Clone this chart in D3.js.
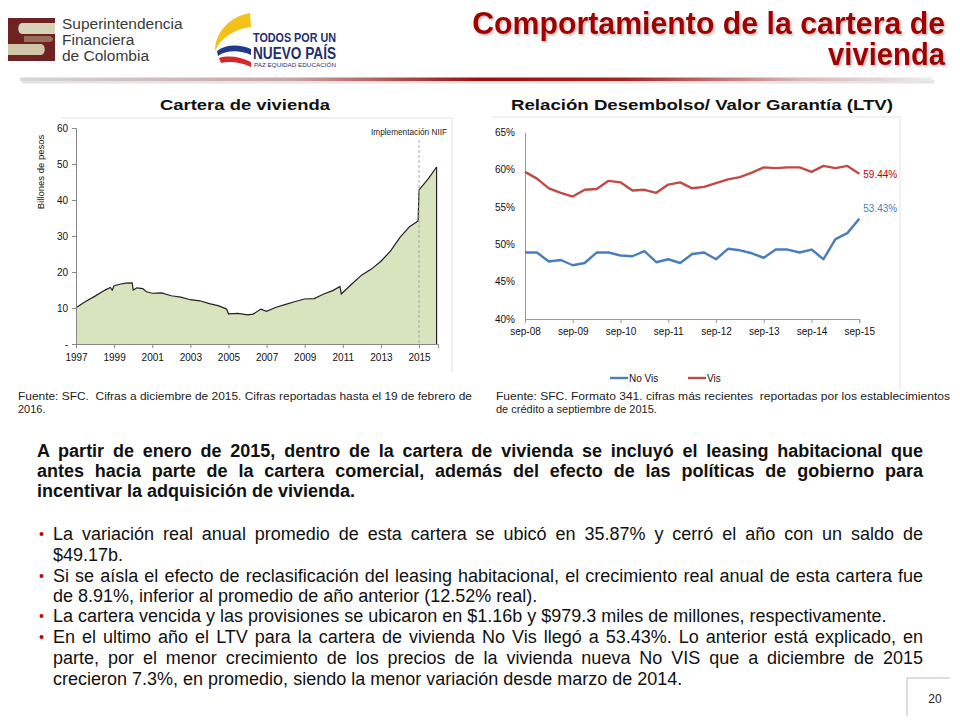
<!DOCTYPE html>
<html><head><meta charset="utf-8">
<script src="https://cdn.jsdelivr.net/npm/d3@7"></script>
<style>
body{margin:0;background:#fff;}
svg{display:block;font-family:'Liberation Sans',Arial,sans-serif;}
</style></head>
<body>
<svg id="c" width="960" height="720"></svg>
<script>
// ---------- DATA ----------
const carteraYears  = [1997.0,1997.5,1998.0,1998.5,1998.8,1998.9,1999.0,1999.3,1999.6,1999.95,2000.0,2000.2,2000.5,2000.7,2001.0,2001.5,2002.0,2002.5,2003.0,2003.5,2004.0,2004.5,2004.9,2005.0,2005.5,2006.0,2006.3,2006.7,2007.0,2007.5,2008.0,2008.5,2009.0,2009.5,2010.0,2010.5,2010.85,2010.92,2011.5,2012.0,2012.5,2013.0,2013.5,2014.0,2014.5,2014.95,2015.0,2015.5,2015.92];
const carteraValues = [10.1,11.8,13.3,14.9,15.7,15.0,16.2,16.6,16.9,17.0,15.0,15.6,15.4,14.5,14.1,14.2,13.4,13.0,12.3,12.0,11.2,10.6,9.7,8.4,8.5,8.1,8.3,9.7,9.1,10.2,11.0,11.8,12.5,12.6,13.9,14.9,16.0,13.9,16.8,19.2,20.8,23.0,25.8,29.6,32.6,34.2,42.8,46.0,49.17];
const carteraYTicks = [0,10,20,30,40,50,60];
const carteraYLabels = ["-","10","20","30","40","50","60"];
const carteraXTicks = [1997,1999,2001,2003,2005,2007,2009,2011,2013,2015];

const ltvQuarters = ["sep-08","dic-08","mar-09","jun-09","sep-09","dic-09","mar-10","jun-10","sep-10","dic-10","mar-11","jun-11","sep-11","dic-11","mar-12","jun-12","sep-12","dic-12","mar-13","jun-13","sep-13","dic-13","mar-14","jun-14","sep-14","dic-14","mar-15","jun-15","sep-15"];
const noVis = [48.9,48.9,47.7,47.9,47.2,47.5,48.9,48.9,48.5,48.4,49.1,47.6,48.0,47.5,48.7,48.9,48.0,49.4,49.2,48.8,48.2,49.3,49.3,48.9,49.3,48.0,50.7,51.5,53.43];
const vis   = [59.7,58.8,57.5,56.9,56.4,57.3,57.4,58.5,58.3,57.2,57.3,56.9,58.0,58.3,57.5,57.7,58.2,58.7,59.0,59.6,60.3,60.2,60.3,60.3,59.7,60.5,60.2,60.5,59.44];
const ltvYTicks = [40,45,50,55,60,65];
const ltvXTickLabels = ["sep-08","sep-09","sep-10","sep-11","sep-12","sep-13","sep-14","sep-15"];
const seriesNames = ["No Vis","Vis"];

// ---------- SETUP ----------
const svg = d3.select("#c");
const NARROW = "'Liberation Sans Narrow','Arial Narrow','Liberation Sans',sans-serif";
const defs = svg.append("defs");
const sh = defs.append("filter").attr("id","shadow").attr("x","-5%").attr("y","-20%").attr("width","110%").attr("height","160%");
sh.append("feDropShadow").attr("dx",1.5).attr("dy",1.5).attr("stdDeviation",1).attr("flood-color","#777").attr("flood-opacity",0.55);
const grad = defs.append("linearGradient").attr("id","rule").attr("gradientUnits","userSpaceOnUse")
  .attr("x1",20).attr("x2",935).attr("y1",0).attr("y2",0);
[[0,"#d6d6d6"],[0.3,"#c9a3a3"],[0.5,"#9b1010"],[0.66,"#a52222"],[0.85,"#d9b5b5"],[1,"#ececec"]]
  .forEach(s=>grad.append("stop").attr("offset",s[0]).attr("stop-color",s[1]));

// ---------- HEADER ----------
const hdr = svg.append("g");
hdr.append("rect").attr("x",8).attr("y",18).attr("width",47).attr("height",43).attr("fill","#6f2222");
hdr.append("path").attr("d","M22,23 L55,23 L55,34 L22,34 C17,34 17,23 22,23 Z").attr("fill","#d8d2b8");
hdr.append("path").attr("d","M8,44 L41,44 C46,44 46,55 41,55 L8,55 Z").attr("fill","#cfc8a8");
hdr.append("path").attr("d","M24,36 L50,36 C54,38 54,41 50,42 L24,42 Z").attr("fill","#b9ae8c").attr("opacity",0.55);
["Superintendencia","Financiera","de Colombia"].forEach((t,i)=>{
  hdr.append("text").attr("x",62).attr("y",29+i*16).attr("font-size",15.5).attr("fill","#3a3a3a").text(t);
});
hdr.append("path").attr("d","M250,13 C231,16 215,31 215,51 C221,38 234,29 251,27 Z").attr("fill","#f2c21b");
hdr.append("path").attr("d","M217,51 C226,44 240,44 251,49 L251,55 C240,50 226,50 218,56 Z").attr("fill","#1e3a8a");
hdr.append("path").attr("d","M219,58 C229,55 241,57 251,62 L251,67 C241,62 229,61 221,63 Z").attr("fill","#d62828");
hdr.append("text").attr("x",253).attr("y",42).attr("font-size",13).attr("font-weight","bold").attr("fill","#1f2f6e")
  .attr("textLength",83).attr("lengthAdjust","spacingAndGlyphs").text("TODOS POR UN");
hdr.append("text").attr("x",253).attr("y",59).attr("font-size",17).attr("font-weight","bold").attr("fill","#1f2f6e")
  .attr("textLength",83).attr("lengthAdjust","spacingAndGlyphs").text("NUEVO PAÍS");
hdr.append("text").attr("x",254).attr("y",67).attr("font-size",4.5).attr("fill","#1f2f6e")
  .attr("textLength",82).attr("lengthAdjust","spacingAndGlyphs").text("PAZ   EQUIDAD   EDUCACIÓN");

// title: horizontally scaled bold text (condensed look)
const title = svg.append("g").attr("filter","url(#shadow)");
function condensed(g,text,xRight,y,size,width,color){
  const t = g.append("text").attr("text-anchor","end").attr("font-size",size).attr("font-weight","bold")
    .attr("fill",color).text(text);
  const w = t.node().getComputedTextLength();
  t.attr("transform",`translate(${xRight},${y}) scale(${width/w},1)`);
  return t;
}
condensed(title,"Comportamiento de la cartera de",945,34,32,473,"#a00000");
condensed(title,"vivienda",945,65,32,117,"#a00000");
svg.append("rect").attr("x",22).attr("y",80).attr("width",912).attr("height",3.5).attr("fill","#e4e4e4");
svg.append("rect").attr("x",20).attr("y",77.5).attr("width",912).attr("height",3.5).attr("fill","url(#rule)");

// ---------- LEFT CHART ----------
svg.append("text").attr("x",245).attr("y",110).attr("text-anchor","middle").attr("font-size",15).attr("font-weight","bold")
  .attr("fill","#111").attr("textLength",170).attr("lengthAdjust","spacingAndGlyphs").text("Cartera de vivienda");
svg.append("path").attr("d","M62,118 H452 V372").attr("fill","none").attr("stroke","#e3e3e3");

const xL = d3.scaleLinear().domain([1997,2016]).range([76,438.1]);
const yL = d3.scaleLinear().domain([0,60]).range([344,128]);
const gL = svg.append("g");
const pts = carteraYears.map((y,i)=>[y,carteraValues[i]]);
gL.append("path").datum(pts)
  .attr("d",d3.area().x(d=>xL(d[0])).y0(yL(0)).y1(d=>yL(d[1])))
  .attr("fill","#d7e4bd");
gL.append("path").datum(pts)
  .attr("d",d3.line().x(d=>xL(d[0])).y(d=>yL(d[1])))
  .attr("fill","none").attr("stroke","#222").attr("stroke-width",1.2);
gL.append("line").attr("x1",xL(carteraYears[carteraYears.length-1])).attr("x2",xL(carteraYears[carteraYears.length-1]))
  .attr("y1",yL(carteraValues[carteraValues.length-1])).attr("y2",yL(0)).attr("stroke","#222").attr("stroke-width",1.2);
gL.append("line").attr("x1",xL(2015)).attr("x2",xL(2015)).attr("y1",140).attr("y2",yL(0))
  .attr("stroke","#aaa").attr("stroke-dasharray","3,2");
gL.append("text").attr("x",447).attr("y",135).attr("text-anchor","end").attr("font-size",9.5).attr("font-family",NARROW)
  .attr("fill","#222").attr("textLength",76).attr("lengthAdjust","spacingAndGlyphs").text("Implementación NIIF");

const axYL = gL.append("g").attr("transform","translate(76,0)")
  .call(d3.axisLeft(yL).tickValues(carteraYTicks).tickSize(4).tickFormat((d,i)=>carteraYLabels[i]));
const axXL = gL.append("g").attr("transform",`translate(0,${yL(0)})`)
  .call(d3.axisBottom(xL).tickValues(carteraXTicks).tickSize(4).tickFormat(d3.format("d")));
[axYL,axXL].forEach(a=>{
  a.select(".domain").attr("stroke","#888");
  a.selectAll(".tick line").attr("stroke","#888");
  a.selectAll("text").attr("font-family",NARROW).attr("font-size",10).attr("fill","#111");
});
axYL.selectAll("text").attr("dx",-1);
axXL.selectAll("text").attr("dy","0.95em");
gL.append("text").attr("transform","translate(44,172) rotate(-90)").attr("text-anchor","middle")
  .attr("font-size",9.5).attr("fill","#111").text("Billones de pesos");

// ---------- RIGHT CHART ----------
svg.append("text").attr("x",702).attr("y",110).attr("text-anchor","middle").attr("font-size",15).attr("font-weight","bold")
  .attr("fill","#111").attr("textLength",382).attr("lengthAdjust","spacingAndGlyphs").text("Relación Desembolso/ Valor Garantía (LTV)");
svg.append("path").attr("d","M492,117 H900 V390").attr("fill","none").attr("stroke","#e3e3e3");

const xR = d3.scaleLinear().domain([0,ltvQuarters.length-1]).range([525,859.3]);
const yR = d3.scaleLinear().domain([40,65]).range([319,132.3]);
const gR = svg.append("g");
const axYR = gR.append("g").attr("transform","translate(525,0)")
  .call(d3.axisLeft(yR).tickValues(ltvYTicks).tickSize(0).tickFormat(d=>d+"%"));
const axXR = gR.append("g").attr("transform",`translate(0,${yR(40)})`)
  .call(d3.axisBottom(xR).tickValues(d3.range(0,ltvQuarters.length,4)).tickSize(4)
    .tickFormat(d=>ltvXTickLabels[d/4]));
[axYR,axXR].forEach(a=>{
  a.select(".domain").attr("stroke","#999");
  a.selectAll(".tick line").attr("stroke","#999");
  a.selectAll("text").attr("font-family",NARROW).attr("font-size",10).attr("fill","#111");
});
axYR.selectAll("text").attr("dx",-7);
axXR.selectAll("text").attr("dy","0.9em");
const lineR = d3.line().x((d,i)=>xR(i)).y(d=>yR(d));
const colors = ["#4a7ebb","#be4b48"];
[noVis,vis].forEach((s,k)=>{
  gR.append("path").datum(s).attr("d",lineR).attr("fill","none").attr("stroke",colors[k]).attr("stroke-width",2.4)
    .attr("stroke-linejoin","round");
});
gR.append("text").attr("x",xR(28)+4).attr("y",yR(vis[28])+4).attr("font-family",NARROW).attr("font-size",10)
  .attr("fill","#c00000").text(d3.format(".2f")(vis[28])+"%");
gR.append("text").attr("x",xR(28)+4).attr("y",yR(noVis[28])-7).attr("font-family",NARROW).attr("font-size",10)
  .attr("fill","#4a7ebb").text(d3.format(".2f")(noVis[28])+"%");
const legX = [610,688];
seriesNames.forEach((n,k)=>{
  gR.append("line").attr("x1",legX[k]).attr("x2",legX[k]+18).attr("y1",378).attr("y2",378)
    .attr("stroke",colors[k]).attr("stroke-width",2.4);
  gR.append("text").attr("x",legX[k]+19).attr("y",382).attr("font-family",NARROW).attr("font-size",10)
    .attr("fill","#111").text(n);
});

// ---------- SOURCES ----------
const src = [
  [18,400,"Fuente: SFC.  Cifras a diciembre de 2015. Cifras reportadas hasta el 19 de febrero de",454],
  [18,413,"2016.",null],
  [496,400,"Fuente: SFC. Formato 341. cifras más recientes  reportadas por los establecimientos",454],
  [496,413,"de crédito a septiembre de 2015.",null]
];
src.forEach(s=>{
  const t = svg.append("text").attr("x",s[0]).attr("y",s[1]).attr("font-size",11).attr("fill","#222")
    .style("white-space","pre").text(s[2]);
  if(s[3]) t.attr("textLength",s[3]).attr("lengthAdjust","spacingAndGlyphs");
});

// ---------- BODY TEXT ----------
function line(g,text,x0,x1,y,just,opts){
  const t = g.append("text").attr("x",x0).attr("y",y).attr("font-size",opts.size).attr("fill","#111")
    .attr("font-weight",opts.bold?"bold":"normal").text(text);
  if(just){
    const w = t.node().getComputedTextLength();
    const n = (text.match(/ /g)||[]).length;
    if(n>0) t.style("word-spacing",((x1-x0-w)/n)+"px");
  }
  return t;
}
const body = svg.append("g");
const bold = [
  ["A partir de enero de 2015, dentro de la cartera de vivienda se incluyó el leasing habitacional que",457,true],
  ["antes hacia parte de la cartera comercial, además del efecto de las políticas de gobierno para",477,true],
  ["incentivar la adquisición de vivienda.",497,false]
];
bold.forEach(b=>line(body,b[0],37,923,b[1],b[2],{size:18,bold:true}));
const bullets = [
  ["La variación real anual promedio de esta cartera se ubicó en 35.87% y cerró el año con un saldo de",540,true,true],
  ["$49.17b.",561,false,false],
  ["Si se aísla el efecto de reclasificación del leasing habitacional, el crecimiento real anual de esta cartera fue",582,true,true],
  ["de 8.91%, inferior al promedio de año anterior (12.52% real).",602,false,false],
  ["La cartera vencida y las provisiones se ubicaron en $1.16b y $979.3 miles de millones, respectivamente.",622,false,true],
  ["En el ultimo año el LTV para la cartera de vivienda No Vis llegó a 53.43%. Lo anterior está explicado, en",643,true,true],
  ["parte, por el menor crecimiento de los precios de la vivienda nueva No VIS que a diciembre de 2015",664,true,false],
  ["crecieron 7.3%, en promedio, siendo la menor variación desde marzo de 2014.",685,false,false]
];
bullets.forEach(b=>{
  line(body,b[0],53,923,b[1],b[2],{size:18,bold:false});
  if(b[3]) body.append("circle").attr("cx",41.5).attr("cy",b[1]-6).attr("r",2).attr("fill","#c00000");
});

// ---------- PAGE NUMBER ----------
svg.append("path").attr("d","M907,716 V678 H950").attr("fill","none").attr("stroke","#bbb");
svg.append("text").attr("x",935).attr("y",703).attr("text-anchor","middle").attr("font-size",12).attr("fill","#222").text("20");
</script>
</body></html>
